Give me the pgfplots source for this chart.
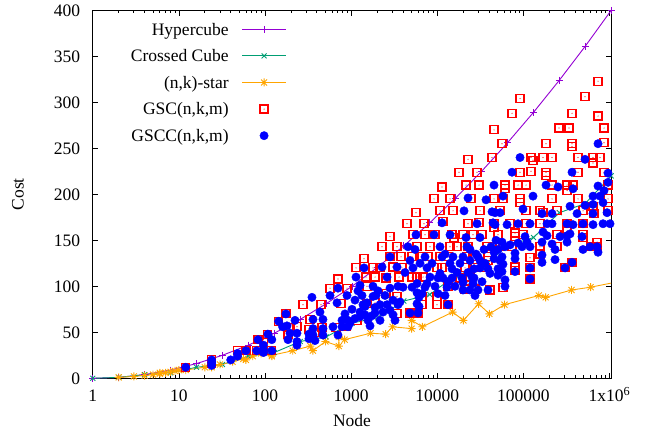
\documentclass[border=0pt]{standalone}
\usepackage{fontspec}
\setmainfont{Liberation Serif}
\usepackage{pgfplots}
\pgfplotsset{compat=1.18}
\definecolor{cHyp}{HTML}{9400D3}
\definecolor{cCross}{HTML}{009E73}
\definecolor{cStar}{HTML}{FFA500}
\definecolor{cGSC}{HTML}{FF0000}
\definecolor{cGSCC}{HTML}{0000FF}
\newcommand\myfont{\fontsize{17.5bp}{21bp}\selectfont}
\pgfdeclareplotmark{sqdot}{%
  \pgfpathrectangle{\pgfqpoint{-\pgfplotmarksize}{-\pgfplotmarksize}}{\pgfqpoint{2\pgfplotmarksize}{2\pgfplotmarksize}}%
  \pgfusepathqstroke
  \pgfpathcircle{\pgfpointorigin}{0.6bp}%
  \pgfusepathqfill
}
\pgfdeclareplotmark{pstar}{%
  \pgfpathmoveto{\pgfqpoint{-\pgfplotmarksize}{0pt}}\pgfpathlineto{\pgfqpoint{\pgfplotmarksize}{0pt}}%
  \pgfpathmoveto{\pgfqpoint{0pt}{-\pgfplotmarksize}}\pgfpathlineto{\pgfqpoint{0pt}{\pgfplotmarksize}}%
  \pgfpathmoveto{\pgfqpoint{-.75\pgfplotmarksize}{-.75\pgfplotmarksize}}\pgfpathlineto{\pgfqpoint{.75\pgfplotmarksize}{.75\pgfplotmarksize}}%
  \pgfpathmoveto{\pgfqpoint{-.75\pgfplotmarksize}{.75\pgfplotmarksize}}\pgfpathlineto{\pgfqpoint{.75\pgfplotmarksize}{-.75\pgfplotmarksize}}%
  \pgfusepathqstroke
}
\begin{document}
\begin{tikzpicture}
\useasboundingbox (0,0) rectangle (653bp,435bp);
\begin{axis}[
  at={(92.8bp,56.7bp)}, anchor=south west,
  scale only axis, width=518.4bp, height=368bp,
  xmode=log, xmin=1, xmax=1048576, ymin=0, ymax=400,
  xtick={1,10,100,1000,10000,100000,1000000},
  xticklabels={1,10,100,1000,10000,100000,1x10\textsuperscript{6}},
  minor xtick={2,3,4,5,6,7,8,9,20,30,40,50,60,70,80,90,200,300,400,500,600,700,800,900,2000,3000,4000,5000,6000,7000,8000,9000,20000,30000,40000,50000,60000,70000,80000,90000,200000,300000,400000,500000,600000,700000,800000,900000},
  ytick={0,50,...,400},
  tick align=inside,
  major tick length=5.5bp, minor tick length=3bp,
  axis line style={line width=0.9bp},
  every tick/.style={black, line width=0.8bp},
  tick label style={font=\myfont},
  /pgf/number format/assume math mode=true,
  yticklabel style={anchor=east, inner sep=0pt, xshift=-12.5bp},
  xticklabel style={anchor=base, inner sep=0pt, yshift=-23.4bp},
  xlabel={Node}, ylabel={Cost},
  every axis x label/.style={at={(axis description cs:0.5,-0.116)}, anchor=center, font=\myfont},
  every axis y label/.style={at={(axis description cs:-0.1443,0.5)}, anchor=center, rotate=90, font=\myfont},
  legend style={at={(axis description cs:0.3737,0.965)}, anchor=north east, draw=none, fill=none,
    font=\myfont, inner sep=0pt, outer sep=0pt, column sep=13bp, row sep=14.4bp,
    nodes={inner sep=0pt, text height=12bp, text depth=0.2bp}},
  legend cell align=right,
  legend plot pos=right,
  legend image code/.code={\draw[mark repeat=2,mark phase=2,#1] plot coordinates {(0bp,0bp) (22bp,0bp) (44bp,0bp)};},
]
\addplot[cHyp, line width=0.9bp, mark=+, mark size=3.5bp] coordinates {
(1,0)(2,1)(4,4)(8,9)(16,16)(32,25)(64,36)(128,49)(256,64)(512,81)(1024,100)(2048,121)(4096,144)(8192,169)(16384,196)(32768,225)(65536,256)(131072,289)(262144,324)(524288,361)(1048576,400)};
\addlegendentry{Hypercube}
\addplot[cCross, line width=0.9bp, mark=x, mark size=3.5bp] coordinates {
(1,0)(2,1)(4,4)(8,6)(16,12)(32,15)(64,24)(128,28)(256,40)(512,45)(1024,60)(2048,66)(4096,84)(8192,91)(16384,112)(32768,120)(65536,144)(131072,153)(262144,180)(524288,190)(1048576,220)};
\addlegendentry{Crossed Cube}
\addplot[cStar, line width=0.9bp, mark=pstar, mark size=4bp] coordinates {
(2,1)(3,2)(4,3)(5,4)(6,6)(6,5)(7,6)(8,7)(9,8)(10,9)(12,9)(20,12)(24,12)(30,15)(42,18)(56,21)(60,20)(72,24)(90,27)(120,24)(120,25)(210,30)(336,35)(360,30)(504,40)(720,35)(720,45)(840,42)(1680,49)(2520,48)(3024,56)(5040,54)(5040,63)(6720,56)(15120,72)(20160,63)(30240,81)(40320,70)(60480,80)(151200,90)(181440,88)(362880,96)(604800,99)(1814400,108)};
\addlegendentry{(n,k)-star}
\addplot[only marks, mark=sqdot, mark size=4bp, mark options={draw=cGSC, fill=cGSC, line width=1.2bp}] coordinates {
(12,12)(24,20)(24,16)(48,30)(60,30)(80,30)(83,42)(96,42)(108,48)(120,30)(144,62)(175,70)(185,48)(195,55)(235,56)(276,80)(333,64)(324,53)(381,50)(447,80)(459,55)(569,98)(668,55)(704,108)(763,81)(896,98)(872,56)(1140,120)(1171,63)(1412,130)(1490,110)(1530,100)(1530,81)(1796,120)(1895,110)(1895,82)(2286,143)(2544,109)(2544,92)(2830,154)(2830,132)(3065,121)(3412,143)(3412,89)(3412,70)(3600,110)(3798,132)(4460,168)(5098,132)(5673,180)(5233,156)(5827,143)(5827,110)(4832,71)(5982,71)(6661,89)(6661,80)(7028,168)(7217,156)(6838,110)(7817,132)(6661,132)(5098,110)(9182,195)(9430,156)(9950,89)(9950,80)(10780,182)(10780,132)(11373,208)(11373,120)(11675,170)(13345,132)(13345,100)(13345,80)(14085,195)(14085,143)(14860,156)(15254,182)(15677,153)(17916,224)(18404,109)(19932,156)(21036,97)(21036,120)(21606,210)(22195,132)(22784,238)(22784,168)(22784,143)(24689,195)(26036,156)(26036,132)(27478,120)(27478,97)(28992,224)(30579,210)(31420,182)(30579,169)(37893,143)(38898,132)(38898,128)(41050,96)(43308,240)(45689,270)(45689,195)(45689,168)(45689,164)(46920,143)(50815,156)(53630,182)(53630,143)(58082,195)(58082,99)(56580,255)(61299,210)(61299,206)(70080,168)(73934,288)(73934,143)(80101,158)(80101,154)(80101,121)(80101,117)(86759,210)(91550,304)(91550,224)(91550,195)(91550,191)(99149,156)(107478,210)(107478,182)(107478,168)(119650,131)(119650,120)(119650,108)(122880,240)(129581,237)(122880,225)(156300,182)(156300,168)(156300,143)(156300,135)(169273,240)(169273,180)(183496,255)(183496,224)(183496,220)(215537,240)(215537,210)(215537,195)(246394,156)(246394,143)(246394,182)(259885,272)(305067,120)(321881,210)(321881,204)(321881,168)(321881,160)(339497,272)(367879,288)(367879,255)(367879,252)(367879,126)(377651,210)(431690,240)(431690,224)(431690,195)(493325,182)(493325,168)(493325,156)(493325,153)(520751,306)(611476,143)(644818,240)(644818,234)(644818,187)(662680,179)(718069,148)(718069,143)(737105,323)(737105,285)(778000,240)(865914,272)(865914,256)(865914,224)(963164,210)(963164,195)(963164,182)
(8250,143)(9950,120)(16986,143)(24040,110)(33150,156)(35914,120)(3900,120)(2167,120)};
\addlegendentry{GSC(n,k,m)}
\addplot[only marks, mark=*, mark size=4.2bp, mark options={draw=cGSCC, fill=cGSCC, line width=0.4bp}] coordinates {
(12,12)(24,20)(24,17)(24,14)(40,20)(48,24)(48,27)(60,30)(80,30)(83,42)(96,36)(96,31)(96,28)(108,48)(120,42)(120,30)(144,62)(160,56)(175,70)(185,42)(180,57)(195,49)(223,63)(235,49)(235,40)(235,36)(324,48)(324,43)(351,88)(361,64)(361,54)(361,47)(381,41)(435,72)(471,64)(471,54)(471,47)(569,90)(616,56)(686,82)(704,98)(704,47)(784,63)(784,56)(896,90)(920,63)(920,56)(971,60)(1140,110)(1269,101)(1269,72)(1269,67)(1339,90)(1374,80)(1412,120)(1450,78)(1450,69)(1530,82)(1571,63)(1658,57)(1796,100)(1796,89)(1895,77)(1895,71)(1946,90)(2167,63)(2286,121)(2347,72)(2613,110)(2613,80)(2830,132)(2830,98)(2830,74)(3065,85)(3065,69)(3235,63)(3412,121)(3504,80)(3698,83)(4005,99)(4578,143)(4832,71)(5098,99)(5233,120)(5673,156)(5827,93)(5827,103)(5827,81)(5982,71)(6146,88)(6146,78)(6661,92)(7217,132)(7217,99)(7615,103)(7615,120)(9182,156)(10211,92)(10780,143)(10780,114)(10211,109)(11373,169)(11373,132)(11675,109)(12322,90)(13003,99)(13345,105)(13345,80)(14085,156)(15254,132)(14860,119)(14860,109)(19416,109)(19932,104)(19932,96)(19932,132)(20484,182)(21606,153)(22195,143)(24040,96)(22784,196)(22784,115)(24040,128)(26036,103)(26757,119)(26757,109)(27478,90)(28992,168)(29762,132)(29762,96)(31420,153)(31420,128)(31420,120)(36887,194)(38898,119)(38898,96)(41050,114)(42158,143)(43308,181)(44459,169)(45689,210)(45689,137)(45689,130)(50815,119)(50815,112)(53630,128)(56580,116)(56580,132)(46920,180)(46920,167)(53630,180)(56580,148)(58082,198)(58082,124)(61299,143)(61299,107)(61299,100)(64677,167)(70080,145)(73934,224)(80101,136)(80101,130)(80101,116)(86759,168)(86759,147)(91550,240)(96585,143)(99149,184)(104642,154)(110410,148)(119650,168)(119650,143)(119650,120)(119650,108)(129581,198)(164897,179)(164897,148)(164897,134)(164897,126)(169273,159)(183496,210)(188495,155)(188495,168)(215537,179)(215537,146)(215537,168)(233515,140)(233515,129)(252919,208)(266900,154)(305067,120)(321881,168)(321881,155)(321881,148)(348700,187)(348700,157)(367879,224)(367879,126)(377651,206)(377651,167)(420532,179)(480658,154)(493325,168)(493325,140)(520751,188)(520751,238)(595400,143)(644818,189)(644818,179)(644818,198)(644818,167)(718069,143)(737105,255)(737105,209)(737105,137)(778000,198)(842574,191)(842574,168)(865914,204)(938268,180)(963164,213)(963164,223)(1016000,168)
(4227,115)(4832,128)(5523,140)(6314,125)(8250,110)(8704,125)(9430,100)(12322,135)(14085,125)(16100,100)(16986,115)(18404,125)(24040,140)(25364,110)(28230,135)(33150,105)(34970,140)(35914,125)(48190,150)(50815,140)
(849,70)(1024,75)(1110,85)(1202,95)(1749,68)(2053,95)(2477,90)(3504,100)(2167,80)(1110,65)};
\addlegendentry{GSCC(n,k,m)}
\end{axis}
\end{tikzpicture}
\end{document}
